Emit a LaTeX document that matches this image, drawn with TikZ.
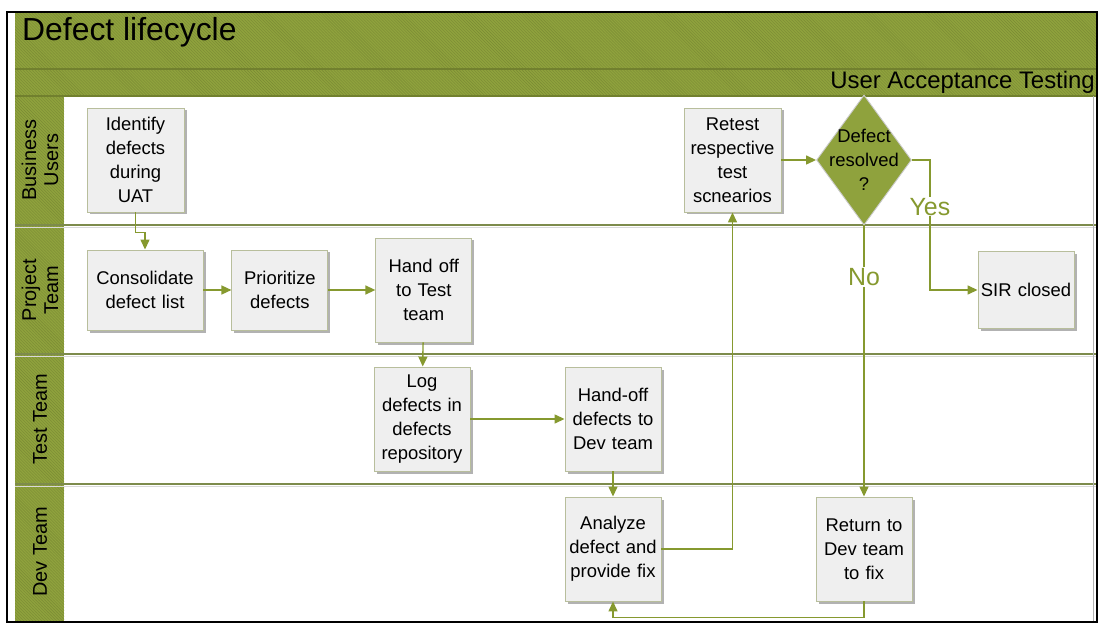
\documentclass[tikz,border=0pt]{standalone}
\usepackage{fontspec}
\setmainfont{Liberation Sans}
\usetikzlibrary{arrows.meta,positioning,shapes.geometric,shadows,patterns}
\definecolor{cHead}{HTML}{8FA23D}
\definecolor{cHeadB}{HTML}{71802E}
\definecolor{cLine}{HTML}{86992F}
\definecolor{cBox}{HTML}{EFEFEF}
\definecolor{cBoxB}{HTML}{B8BE9C}
\definecolor{cLane}{HTML}{7D8B4C}
\tikzset{
  pbox/.style={draw=cBoxB, fill=cBox, line width=0.9bp, align=center, inner sep=0pt,
               text width=#1, minimum height=104bp, font=\fontsize{18.5}{24}\selectfont,
               drop shadow={shadow xshift=2.5bp, shadow yshift=-2.5bp, fill=black, opacity=0.3}},
  decbox/.style={diamond, fill=cHead, draw=white!80!black, line width=0.9bp, inner sep=0pt,
                 minimum width=95bp, minimum height=130bp},
  dectxt/.style={align=center, inner sep=0pt, font=\fontsize{18.5}{24}\selectfont},
  parr/.style={-{Triangle[length=10bp,width=9bp]}, line width=1.4bp, draw=cLine},
  plbl/.style={fill=white, inner sep=1bp, text=cLine, font=\fontsize{25}{25}\selectfont},
  lanelbl/.style={rotate=90, align=center, inner sep=0pt, font=\fontsize{20}{22}\selectfont},
  laneline/.style={draw=cLane, line width=1.5bp},
  hatch/.style={pattern=north west lines, pattern color=cHead!85!black},
}

\begin{document}
\begin{tikzpicture}[x=1bp, y=-1bp]
\useasboundingbox (0,0) rectangle (1103,624);
% header bands and lane column
\fill[cHead] (15,13) rectangle (1096,96);
\fill[cHead] (15,96) rectangle (64,621);
\fill[hatch] (15,13) rectangle (1096,96);
\fill[hatch] (15,96) rectangle (64,621);
\draw[cHeadB, line width=1.2bp] (15,69) -- (1096,69);
\draw[cHeadB, line width=1.2bp] (15,96) -- (1096,96);
% lane separators
\foreach \y in {225,354,484} {
  \draw[gray!30, line width=1.5bp] (15,\y+2.5) -- (1096,\y+2.5);
  \draw[laneline] (15,\y) -- (1096,\y);
}
\draw[gray!60] (1093,96) -- (1093,621);
\draw[line width=2bp] (7,12) rectangle (1097,622);

\node[anchor=base west, inner sep=0pt, font=\fontsize{32}{32}\selectfont] (ttl) at (22,41) {Defect lifecycle};
\node[anchor=base east, inner sep=0pt, font=\fontsize{24}{24}\selectfont] (phase) at (1095,89) {User Acceptance Testing};

\node[lanelbl] (lBU) at (40,160) {Business\\Users};
\node[lanelbl] (lPT) at (40,290) {Project\\Team};
\node[lanelbl] (lTT) at (40,419) {Test Team};
\node[lanelbl] (lDT) at (40,552) {Dev Team};

% steps
\node[pbox=97bp] (ident) at (135.5,160) {Identify\\defects\\during\\UAT};
\node[pbox=116bp, minimum height=80bp] (cons) at (145,290) {Consolidate\\defect list};
\node[pbox=96bp, minimum height=80bp, right=28bp of cons] (prio) {Prioritize\\defects};
\node[pbox=96bp, right=47bp of prio] (hand) {Hand off\\to Test\\team};
\node[pbox=96bp] (logd) at (422,419) {Log\\defects in\\defects\\repository};
\node[pbox=96bp] (hdev) at (613,419) {Hand-off\\defects to\\Dev team};
\node[pbox=96bp] (anlz) at (613,549) {Analyze\\defect and\\provide fix};
\node[pbox=97bp] (rtst) at (732.5,160) {Retest\\respective\\test\\scnearios};
\node[decbox] (dec) at (864,160) {};
\node[dectxt] (dect) at (dec) {Defect\\resolved\\?};
\node[pbox=96bp] (rtrn) at (864,549) {Return to\\Dev team\\to fix};
\node[pbox=96bp, minimum height=77bp] (sir) at (1026,290) {SIR closed};

% flow
\draw[parr] (ident.south) -- ++(0,20) -| (cons.north);
\draw[parr] (cons) -- (prio);
\draw[parr] (prio) -- (hand);
\draw[parr] (hand) -- (logd);
\draw[parr] (logd) -- (hdev);
\draw[parr] (hdev) -- (anlz);
\draw[parr] (anlz.east) -| (rtst.south);
\draw[parr] (rtst.east) -- (dec.west);
\draw[parr] (dec.east) -- ++(18,0) |- node[pos=0.18, plbl] {Yes} (sir.west);
\draw[parr] (dec.south) -- node[pos=0.19, plbl] {No} (rtrn.north);
\draw[parr] (rtrn.south) -- ++(0,16) -| (anlz.south);
\end{tikzpicture}
\end{document}
